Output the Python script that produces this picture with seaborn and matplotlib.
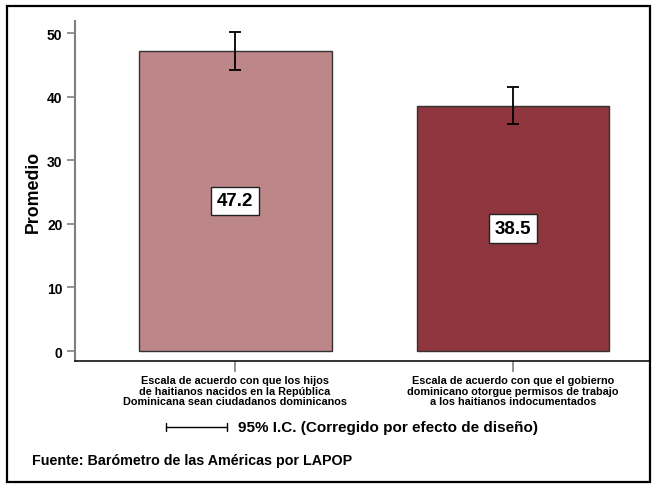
import matplotlib
matplotlib.use("Agg")
import matplotlib.pyplot as plt
from matplotlib.patches import Rectangle
from matplotlib.lines import Line2D
import seaborn as sns
import pandas as pd

sns.set_style("white")
plt.rcParams["font.family"] = ["Liberation Sans", "DejaVu Sans"]
plt.rcParams["font.weight"] = "bold"
plt.rcParams["text.color"] = "black"
plt.rcParams["axes.labelcolor"] = "black"
plt.rcParams["xtick.color"] = "black"
plt.rcParams["ytick.color"] = "black"

categories = [
    "Escala de acuerdo con que los hijos\nde haitianos nacidos en la República\nDominicana sean ciudadanos dominicanos",
    "Escala de acuerdo con que el gobierno\ndominicano otorgue permisos de trabajo\na los haitianos indocumentados",
]
means = [47.2, 38.5]
ci_low = [44.2, 35.7]
ci_high = [50.2, 41.5]
bar_colors = ["#BD8688", "#8F353E"]
y_ticks = [0, 10, 20, 30, 40, 50]

df = pd.DataFrame({"categoria": categories, "promedio": means})

fig = plt.figure(figsize=(6.56, 4.89), dpi=100)
ax = fig.add_axes([75 / 656, 1 - 362 / 489, (650 - 75) / 656, (362 - 22) / 489])

sns.barplot(data=df, x="categoria", y="promedio", hue="categoria",
            palette=bar_colors, saturation=1, legend=False, width=0.694,
            edgecolor="#333333", linewidth=1.0, errorbar=None, ax=ax)

# confidence intervals
xs = list(range(len(means)))
lower = [m - lo for m, lo in zip(means, ci_low)]
upper = [hi - m for m, hi in zip(means, ci_high)]
ax.errorbar(xs, means, yerr=[lower, upper], fmt="none", ecolor="black",
            elinewidth=1.3, capsize=4, capthick=1.3, zorder=5)

# value labels in white boxes at mid-height
for x, m in zip(xs, means):
    ax.text(x, m / 2, f"{m:.1f}", ha="center", va="center", fontsize=13.5,
            fontweight="bold", color="black",
            bbox=dict(boxstyle="square,pad=0.3", facecolor="white",
                      edgecolor="#222222", linewidth=1.0))

ax.set_xlim(-0.576, 1.493)
ax.set_ylim(-1.57, 51.9)
ax.set_yticks(y_ticks)
ax.set_yticklabels([str(t) for t in y_ticks], fontsize=10, fontweight="bold")
ax.set_xticks(xs)
ax.set_xticklabels(categories, fontsize=7.8, fontweight="bold", linespacing=1.1)
ax.set_xlabel("")
ax.set_ylabel("Promedio", fontsize=12.8, fontweight="bold", labelpad=4)

for side in ["top", "right"]:
    ax.spines[side].set_visible(False)
ax.spines["left"].set_color("#808080")
ax.spines["left"].set_linewidth(1.5)
ax.spines["bottom"].set_color("#111111")
ax.spines["bottom"].set_linewidth(1.2)
ax.tick_params(axis="y", direction="out", length=6, width=1.2, color="#808080", pad=3, left=True)
ax.tick_params(axis="x", direction="out", length=8, width=1.2, color="#808080", pad=2, bottom=True)

# confidence interval key below the axis
fig.add_artist(Line2D([166 / 656, 227 / 656], [1 - 428 / 489] * 2, color="black",
                      linewidth=1.0, transform=fig.transFigure))
for xk in [166, 227]:
    fig.add_artist(Line2D([xk / 656] * 2, [1 - 424 / 489, 1 - 432 / 489], color="black",
                          linewidth=1.0, transform=fig.transFigure))
fig.text(238 / 656, 1 - 428 / 489, "95% I.C. (Corregido por efecto de diseño)",
         ha="left", va="center", fontsize=11, fontweight="bold")

fig.text(32 / 656, 1 - 461 / 489, "Fuente: Barómetro de las Américas por LAPOP",
         ha="left", va="center", fontsize=10.3, fontweight="bold")

# outer frame
fig.add_artist(Rectangle((7 / 656, 1 - 483 / 489), (650 - 7) / 656, (483 - 7) / 489,
                         transform=fig.transFigure, fill=False, edgecolor="black",
                         linewidth=1.6))

fig.savefig("out.png", dpi=100)
